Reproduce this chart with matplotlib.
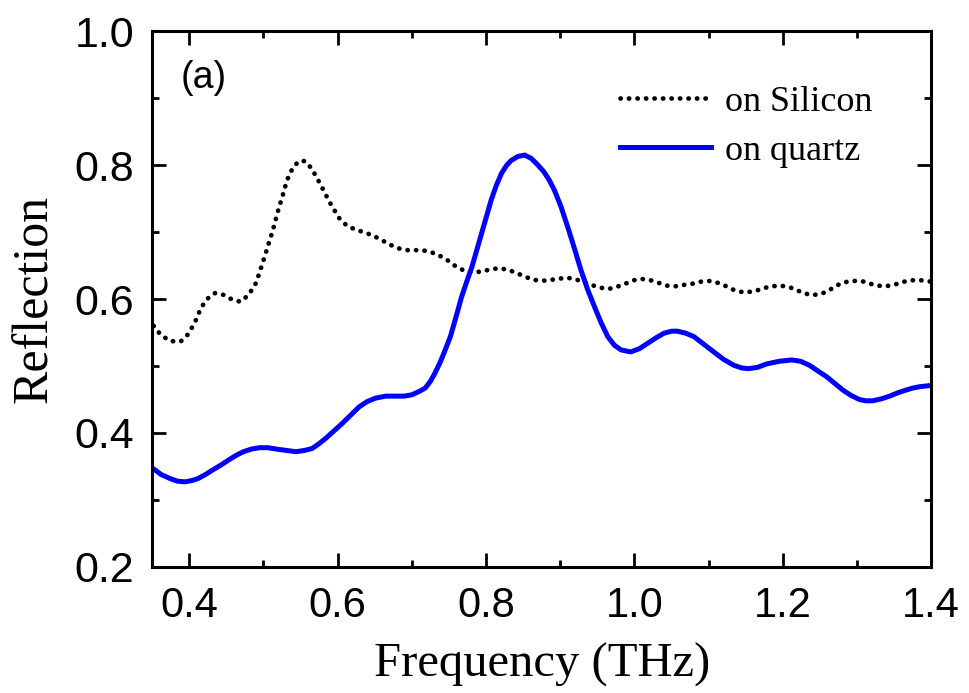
import matplotlib.pyplot as plt
from matplotlib.ticker import MultipleLocator

# reflection spectra
si_freq = [0.352, 0.362, 0.375, 0.389, 0.399, 0.408, 0.416, 0.424, 0.435, 0.447,
           0.458, 0.469, 0.480, 0.490, 0.499, 0.506, 0.513, 0.519, 0.526, 0.532,
           0.540, 0.548, 0.556, 0.565, 0.577, 0.589, 0.602, 0.612, 0.623, 0.635,
           0.647, 0.658, 0.669, 0.681, 0.692, 0.714, 0.726, 0.737, 0.748, 0.759,
           0.771, 0.783, 0.794, 0.805, 0.817, 0.828, 0.839, 0.851, 0.863, 0.875,
           0.897, 0.908, 0.919, 0.930, 0.942, 0.954, 0.965, 0.976, 0.988, 0.999,
           1.010, 1.022, 1.033, 1.044, 1.055, 1.066, 1.079, 1.090, 1.102, 1.113,
           1.124, 1.135, 1.147, 1.158, 1.169, 1.180, 1.193, 1.205, 1.216, 1.227,
           1.239, 1.250, 1.261, 1.272, 1.283, 1.294, 1.306, 1.317, 1.328, 1.339,
           1.352, 1.364, 1.375, 1.386, 1.400]
si_refl = [0.560, 0.546, 0.537, 0.537, 0.548, 0.566, 0.587, 0.600, 0.609, 0.606,
           0.599, 0.596, 0.606, 0.624, 0.654, 0.679, 0.704, 0.729, 0.755, 0.778,
           0.797, 0.806, 0.806, 0.795, 0.771, 0.745, 0.721, 0.710, 0.704, 0.700,
           0.695, 0.689, 0.682, 0.676, 0.673, 0.673, 0.670, 0.665, 0.658, 0.649,
           0.642, 0.640, 0.641, 0.644, 0.646, 0.644, 0.640, 0.634, 0.629, 0.627,
           0.630, 0.632, 0.630, 0.626, 0.621, 0.617, 0.615, 0.618, 0.623, 0.628,
           0.630, 0.628, 0.624, 0.620, 0.619, 0.621, 0.623, 0.626, 0.627, 0.624,
           0.619, 0.613, 0.610, 0.611, 0.614, 0.618, 0.620, 0.619, 0.615, 0.609,
           0.606, 0.607, 0.612, 0.620, 0.625, 0.627, 0.627, 0.623, 0.620, 0.619,
           0.622, 0.626, 0.628, 0.628, 0.626]

qz_freq = [0.350, 0.362, 0.374, 0.384, 0.394, 0.404, 0.412, 0.422, 0.432, 0.444,
           0.455, 0.464, 0.473, 0.484, 0.495, 0.506, 0.517, 0.530, 0.544, 0.556,
           0.566, 0.575, 0.584, 0.595, 0.606, 0.618, 0.629, 0.640, 0.651, 0.665,
           0.678, 0.690, 0.700, 0.710, 0.718, 0.725, 0.731, 0.738, 0.745, 0.752,
           0.760, 0.767, 0.774, 0.781, 0.794, 0.807, 0.814, 0.821, 0.828, 0.834,
           0.843, 0.852, 0.861, 0.870, 0.878, 0.885, 0.892, 0.901, 0.910, 0.919,
           0.928, 0.937, 0.946, 0.955, 0.964, 0.973, 0.982, 0.995, 1.007, 1.018,
           1.029, 1.040, 1.050, 1.058, 1.069, 1.080, 1.094, 1.107, 1.120, 1.134,
           1.145, 1.154, 1.166, 1.178, 1.195, 1.212, 1.224, 1.236, 1.248, 1.259,
           1.270, 1.281, 1.292, 1.303, 1.312, 1.321, 1.333, 1.344, 1.355, 1.366,
           1.375, 1.384, 1.400]
qz_refl = [0.348, 0.338, 0.332, 0.328, 0.327, 0.329, 0.332, 0.338, 0.345, 0.353,
           0.361, 0.367, 0.372, 0.376, 0.378, 0.378, 0.376, 0.374, 0.372, 0.374,
           0.377, 0.384, 0.392, 0.403, 0.414, 0.427, 0.439, 0.447, 0.452, 0.455,
           0.455, 0.455, 0.457, 0.462, 0.467, 0.477, 0.489, 0.505, 0.524, 0.544,
           0.575, 0.603, 0.626, 0.648, 0.698, 0.748, 0.770, 0.788, 0.800, 0.807,
           0.813, 0.815, 0.810, 0.800, 0.790, 0.778, 0.763, 0.738, 0.708, 0.676,
           0.643, 0.614, 0.589, 0.565, 0.544, 0.531, 0.524, 0.521, 0.526, 0.534,
           0.542, 0.549, 0.552, 0.552, 0.549, 0.544, 0.532, 0.521, 0.510, 0.501,
           0.497, 0.496, 0.498, 0.503, 0.507, 0.509, 0.507, 0.501, 0.492, 0.484,
           0.474, 0.464, 0.456, 0.450, 0.448, 0.448, 0.451, 0.455, 0.460, 0.464,
           0.467, 0.469, 0.471]

serif = ['Liberation Serif', 'DejaVu Serif']
sans = ['Liberation Sans', 'DejaVu Sans']

fig = plt.figure(figsize=(9.69, 6.93), dpi=100)
ax = fig.add_axes([0.157, 0.182, 0.804, 0.773])

ax.plot(si_freq, si_refl, color='black', lw=3.4,
        linestyle=(0, (0.05, 1.75)), dash_capstyle='round', label='on Silicon')
ax.plot(qz_freq, qz_refl, color='#0000ff', lw=3.6, label='on quartz')

ax.set_xlim(0.35, 1.4)
ax.set_ylim(0.2, 1.0)
ax.xaxis.set_minor_locator(MultipleLocator(0.1))
ax.yaxis.set_major_locator(MultipleLocator(0.2))
ax.yaxis.set_minor_locator(MultipleLocator(0.1))
ax.set_xticks([0.4, 0.6, 0.8, 1.0, 1.2, 1.4])
ax.set_xticklabels(['0.4', '0.6', '0.8', '1.0', '1.2', '1.4'])

ax.tick_params(which='both', direction='in', top=True, right=True, width=2)
ax.tick_params(which='major', length=10)
ax.tick_params(which='minor', length=5)
ax.tick_params(axis='y', pad=13)
ax.tick_params(axis='x', pad=14)
for lab in ax.get_yticklabels():
    lab.set_family(sans)
    lab.set_fontsize(31)
for lab in ax.get_xticklabels():
    lab.set_family(sans)
    lab.set_fontsize(30)
for sp in ax.spines.values():
    sp.set_linewidth(2.2)

ax.set_xlabel('Frequency (THz)', family=serif, fontsize=35, labelpad=12)
ax.set_ylabel('Reflection', family=serif, fontsize=36, labelpad=12)

ax.text(0.036, 0.912, '(a)', transform=ax.transAxes, family=sans, fontsize=27,
        va='center', ha='left')

ax.legend(loc='upper left', bbox_to_anchor=(0.601, 0.898), frameon=False,
          prop={'family': serif, 'size': 26}, handlelength=2.5,
          handletextpad=0.4, labelspacing=0.42, borderpad=0, borderaxespad=0)

fig.savefig('out.png', dpi=100)
